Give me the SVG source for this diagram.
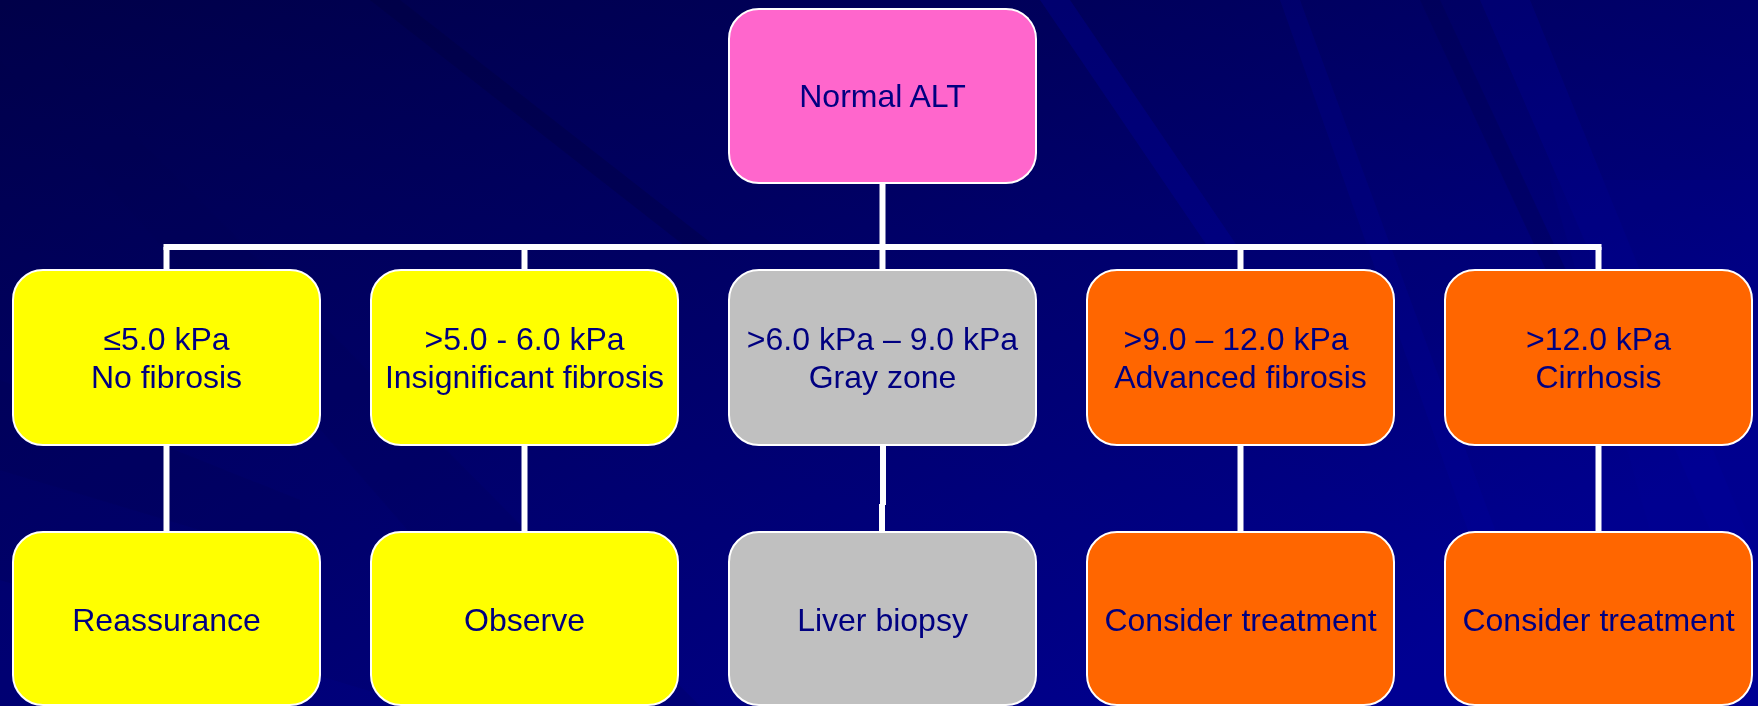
<svg xmlns="http://www.w3.org/2000/svg" width="1758" height="706" viewBox="0 0 1758 706">
  <defs>
    <linearGradient id="bg" x1="0" y1="0" x2="1" y2="0.6">
      <stop offset="0" stop-color="#00004c"/>
      <stop offset="0.45" stop-color="#000064"/>
      <stop offset="0.8" stop-color="#00007e"/>
      <stop offset="1" stop-color="#000090"/>
    </linearGradient>
    <linearGradient id="bg2" x1="0" y1="0" x2="0" y2="1">
      <stop offset="0" stop-color="#000040" stop-opacity="0.25"/>
      <stop offset="1" stop-color="#0000a0" stop-opacity="0.15"/>
    </linearGradient>
    <style>
      .box { stroke: #ffffff; stroke-width: 2; }
      .pink { fill: #ff66cc; }
      .yellow { fill: #ffff00; }
      .gray { fill: #c0c0c0; }
      .orange { fill: #ff6600; }
      .lbl { font-family: "Liberation Sans", Arial, sans-serif; font-size: 32px; fill: #000080; text-anchor: middle; }
      .conn { stroke: #ffffff; stroke-width: 6; fill: none; }
    </style>
  </defs>

  <rect x="0" y="0" width="1758" height="706" fill="url(#bg)"/>
  <rect x="0" y="0" width="1758" height="706" fill="url(#bg2)"/>
  <!-- diagonal streaks -->
  <g opacity="0.3">
    <polygon points="370,0 400,0 720,250 690,250" fill="#00003a"/>
    <polygon points="0,60 60,60 700,706 560,706" fill="#000058" opacity="0.6"/>
    <polygon points="1040,0 1070,0 1240,250 1210,250" fill="#0000a0"/>
    <polygon points="1280,0 1300,0 1560,706 1530,706" fill="#0000a8" opacity="0.6"/>
    <polygon points="1420,0 1440,0 1580,300 1560,300" fill="#00004c"/>
    <polygon points="1480,0 1530,0 1758,560 1758,640" fill="#0000b0" opacity="0.6"/>
    <polygon points="1550,180 1758,180 1758,706 1700,706" fill="#0000a0" opacity="0.4"/>
    <polygon points="0,380 300,500 300,560 0,470" fill="#000050" opacity="0.6"/>
    <polygon points="0,580 420,706 0,706" fill="#00009a" opacity="0.5"/>
  </g>

  <g id="connectors">
    <line class="conn" x1="882.5" y1="183" x2="882.5" y2="247"/>
    <line class="conn" x1="163.5" y1="247" x2="1601.5" y2="247"/>
    <line class="conn" x1="166.5" y1="247" x2="166.5" y2="270"/>
    <line class="conn" x1="524.5" y1="247" x2="524.5" y2="270"/>
    <line class="conn" x1="882.5" y1="247" x2="882.5" y2="270"/>
    <line class="conn" x1="1240.5" y1="247" x2="1240.5" y2="270"/>
    <line class="conn" x1="1598.5" y1="247" x2="1598.5" y2="270"/>
    <line class="conn" x1="166.5" y1="445" x2="166.5" y2="532"/>
    <line class="conn" x1="524.5" y1="445" x2="524.5" y2="532"/>
    <line class="conn" x1="883" y1="445" x2="883" y2="505"/>
    <line class="conn" x1="882" y1="504" x2="882" y2="532"/>
    <line class="conn" x1="1240.5" y1="445" x2="1240.5" y2="532"/>
    <line class="conn" x1="1598.5" y1="445" x2="1598.5" y2="532"/>
  </g>

  <g id="root">
    <rect class="box pink" x="729" y="9" width="307" height="174" rx="30" ry="30"/>
    <text class="lbl" x="882.5" y="107">Normal ALT</text>
  </g>

  <g id="n1">
    <rect class="box yellow" x="13" y="270" width="307" height="175" rx="30" ry="30"/>
    <text class="lbl" x="166.5" y="350">≤5.0 kPa</text>
    <text class="lbl" x="166.5" y="388">No fibrosis</text>
  </g>
  <g id="n2">
    <rect class="box yellow" x="371" y="270" width="307" height="175" rx="30" ry="30"/>
    <text class="lbl" x="524.5" y="350">&gt;5.0 - 6.0 kPa</text>
    <text class="lbl" x="524.5" y="388">Insignificant fibrosis</text>
  </g>
  <g id="n3">
    <rect class="box gray" x="729" y="270" width="307" height="175" rx="30" ry="30"/>
    <text class="lbl" x="882.5" y="350">&gt;6.0 kPa – 9.0 kPa</text>
    <text class="lbl" x="882.5" y="388">Gray zone</text>
  </g>
  <g id="n4">
    <rect class="box orange" x="1087" y="270" width="307" height="175" rx="30" ry="30"/>
    <text class="lbl" x="1236" y="350">&gt;9.0 – 12.0 kPa</text>
    <text class="lbl" x="1240.5" y="388">Advanced fibrosis</text>
  </g>
  <g id="n5">
    <rect class="box orange" x="1445" y="270" width="307" height="175" rx="30" ry="30"/>
    <text class="lbl" x="1598.5" y="350">&gt;12.0 kPa</text>
    <text class="lbl" x="1598.5" y="388">Cirrhosis</text>
  </g>

  <g id="c1">
    <rect class="box yellow" x="13" y="532" width="307" height="173" rx="30" ry="30"/>
    <text class="lbl" x="166.5" y="631">Reassurance</text>
  </g>
  <g id="c2">
    <rect class="box yellow" x="371" y="532" width="307" height="173" rx="30" ry="30"/>
    <text class="lbl" x="524.5" y="631">Observe</text>
  </g>
  <g id="c3">
    <rect class="box gray" x="729" y="532" width="307" height="173" rx="30" ry="30"/>
    <text class="lbl" x="882.5" y="631">Liver biopsy</text>
  </g>
  <g id="c4">
    <rect class="box orange" x="1087" y="532" width="307" height="173" rx="30" ry="30"/>
    <text class="lbl" x="1240.5" y="631">Consider treatment</text>
  </g>
  <g id="c5">
    <rect class="box orange" x="1445" y="532" width="307" height="173" rx="30" ry="30"/>
    <text class="lbl" x="1598.5" y="631">Consider treatment</text>
  </g>
</svg>
